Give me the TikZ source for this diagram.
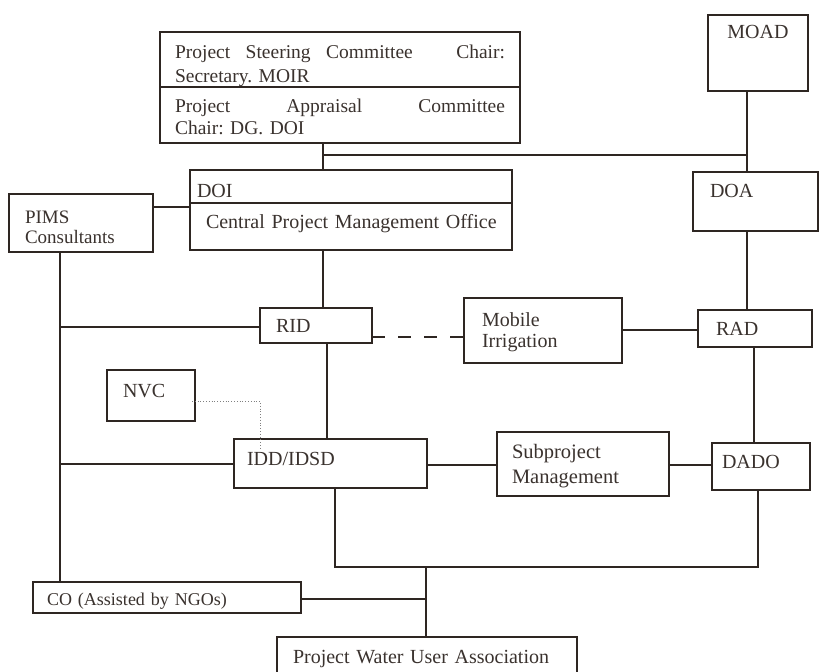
\documentclass[tikz,border=0pt]{standalone}
\usepackage{fontspec}
\setmainfont{Liberation Serif}
\usepackage{tikz}
\usetikzlibrary{calc}
\usetikzlibrary{positioning}
\definecolor{ink}{HTML}{2E2622}
\definecolor{txt}{HTML}{3A322E}
\tikzset{box/.style n args={4}{draw=ink, line width=1.4pt, rectangle, anchor=north west, outer sep=0pt,
    inner ysep=0pt, inner xsep=#2, text width=#1, text height=#3, text depth=#4, align=left, text=txt,
    font=\fontsize{20}{23}\selectfont}}
\tikzset{link/.style={draw=ink, line width=1.4pt}}
\frenchspacing

\begin{document}
\begin{tikzpicture}[x=1pt, y=-1pt]
		\useasboundingbox[fill=white] (0,0) rectangle (820,672);
		% committees at the top
		\node[box={330pt}{15pt}{26pt}{29pt}, font=\fontsize{19.5}{24}\selectfont] (psc) at (160,32)
			{Project\hspace{9pt} Steering\hspace{9pt} Committee\hfill Chair:\\Secretary. MOIR};
		\node[box={330pt}{15pt}{25pt}{31pt}, font=\fontsize{19.5}{22}\selectfont] (pac) at (psc.south west)
			{Project\hfill Appraisal\hfill Committee\\Chair: DG. DOI};
		\node[box={84pt}{8pt}{23pt}{53pt}, align=center] (moad) at (708,15) {MOAD};
		\node[box={91pt}{17pt}{25pt}{34pt}] (doa) at (693,172) {DOA};
		\node[box={308pt}{7pt}{27pt}{6pt}] (doi) at (190,170) {DOI};
		\node[box={290pt}{16pt}{25pt}{22pt}] (cpmo) at (doi.south west) {\mbox{Central Project Management Office}};
		\node[box={112pt}{16pt}{29pt}{29pt}, font=\fontsize{19}{20}\selectfont] (pims) at (9,194) {PIMS\\Consultants};
		% regional level
		\node[box={80pt}{16pt}{24pt}{11pt}] (rid) at (260,308) {RID};
		\node[box={122pt}{18pt}{28pt}{37pt}, font=\fontsize{20}{21}\selectfont] (mobile) at (464,298) {Mobile\\Irrigation};
		\node[box={78pt}{18pt}{25pt}{12pt}] (rad) at (698,310) {RAD};
		% district level
		\node[box={56pt}{16pt}{27pt}{24pt}] (nvc) at (107,370) {NVC};
		\node[box={167pt}{13pt}{26pt}{23pt}] (idd) at (234,439) {IDD/IDSD};
		\node[box={142pt}{15pt}{26pt}{38pt}, font=\fontsize{20.5}{25}\selectfont] (sub) at (497,432) {Subproject\\Management};
		\node[box={78pt}{10pt}{25pt}{22pt}] (dado) at (712,443) {DADO};
		\node[box={240pt}{14pt}{23pt}{8pt}, font=\fontsize{18}{20}\selectfont] (co) at (33,582) {CO (Assisted by NGOs)};
		\node[box={268pt}{16pt}{26pt}{30pt}] (pwua) at (277,637) {Project Water User Association};
		
		\coordinate (hub) at (323,155);
		\coordinate (t1) at (60,327);
		\coordinate (t2) at (60,464);
		\coordinate (bend) at (426,567);
		
		\begin{scope}[link]
			\draw (pac.south -| hub) -- (doi.north -| hub);
			\draw (hub) -- (hub -| 747,0);
			\draw (moad.south -| 747,0) -- (doa.north -| 747,0);
			\draw (doa.south -| 747,0) -- (rad.north -| 747,0);
			\draw (pims.east |- 0,207) -- (doi.west |- 0,207);
			\draw (cpmo.south -| hub) -- (rid.north -| hub);
			\draw (rid.south -| 327,0) -- (idd.north -| 327,0);
			\draw (pims.south -| t1) -- (co.north -| t1);
			\draw (t1) -- (rid.west |- t1);
			\draw[dash pattern=on 13pt off 13pt] (rid.east |- 0,337) -- (mobile.west |- 0,337);
			\draw (mobile.east |- 0,330) -- (rad.west |- 0,330);
			\draw (rad.south -| 754,0) -- (dado.north -| 754,0);
			\draw (t2) -- (idd.west |- t2);
			\draw (idd.east |- 0,465) -- (sub.west |- 0,465);
			\draw (sub.east |- 0,465) -- (dado.west |- 0,465);
			\draw (idd.south -| 335,0) |- (bend) -| (dado.south -| 758,0);
			\draw (bend) -- (pwua.north -| bend);
			\draw (co.east |- 0,599) -- (bend |- 0,599);
		\end{scope}
		\draw[gray, line width=0.8pt, dotted] ([xshift=-3pt, yshift=-5.5pt]nvc.east) -| ([yshift=-11pt]idd.north -| 260,0);
	\end{tikzpicture}
\end{document}
